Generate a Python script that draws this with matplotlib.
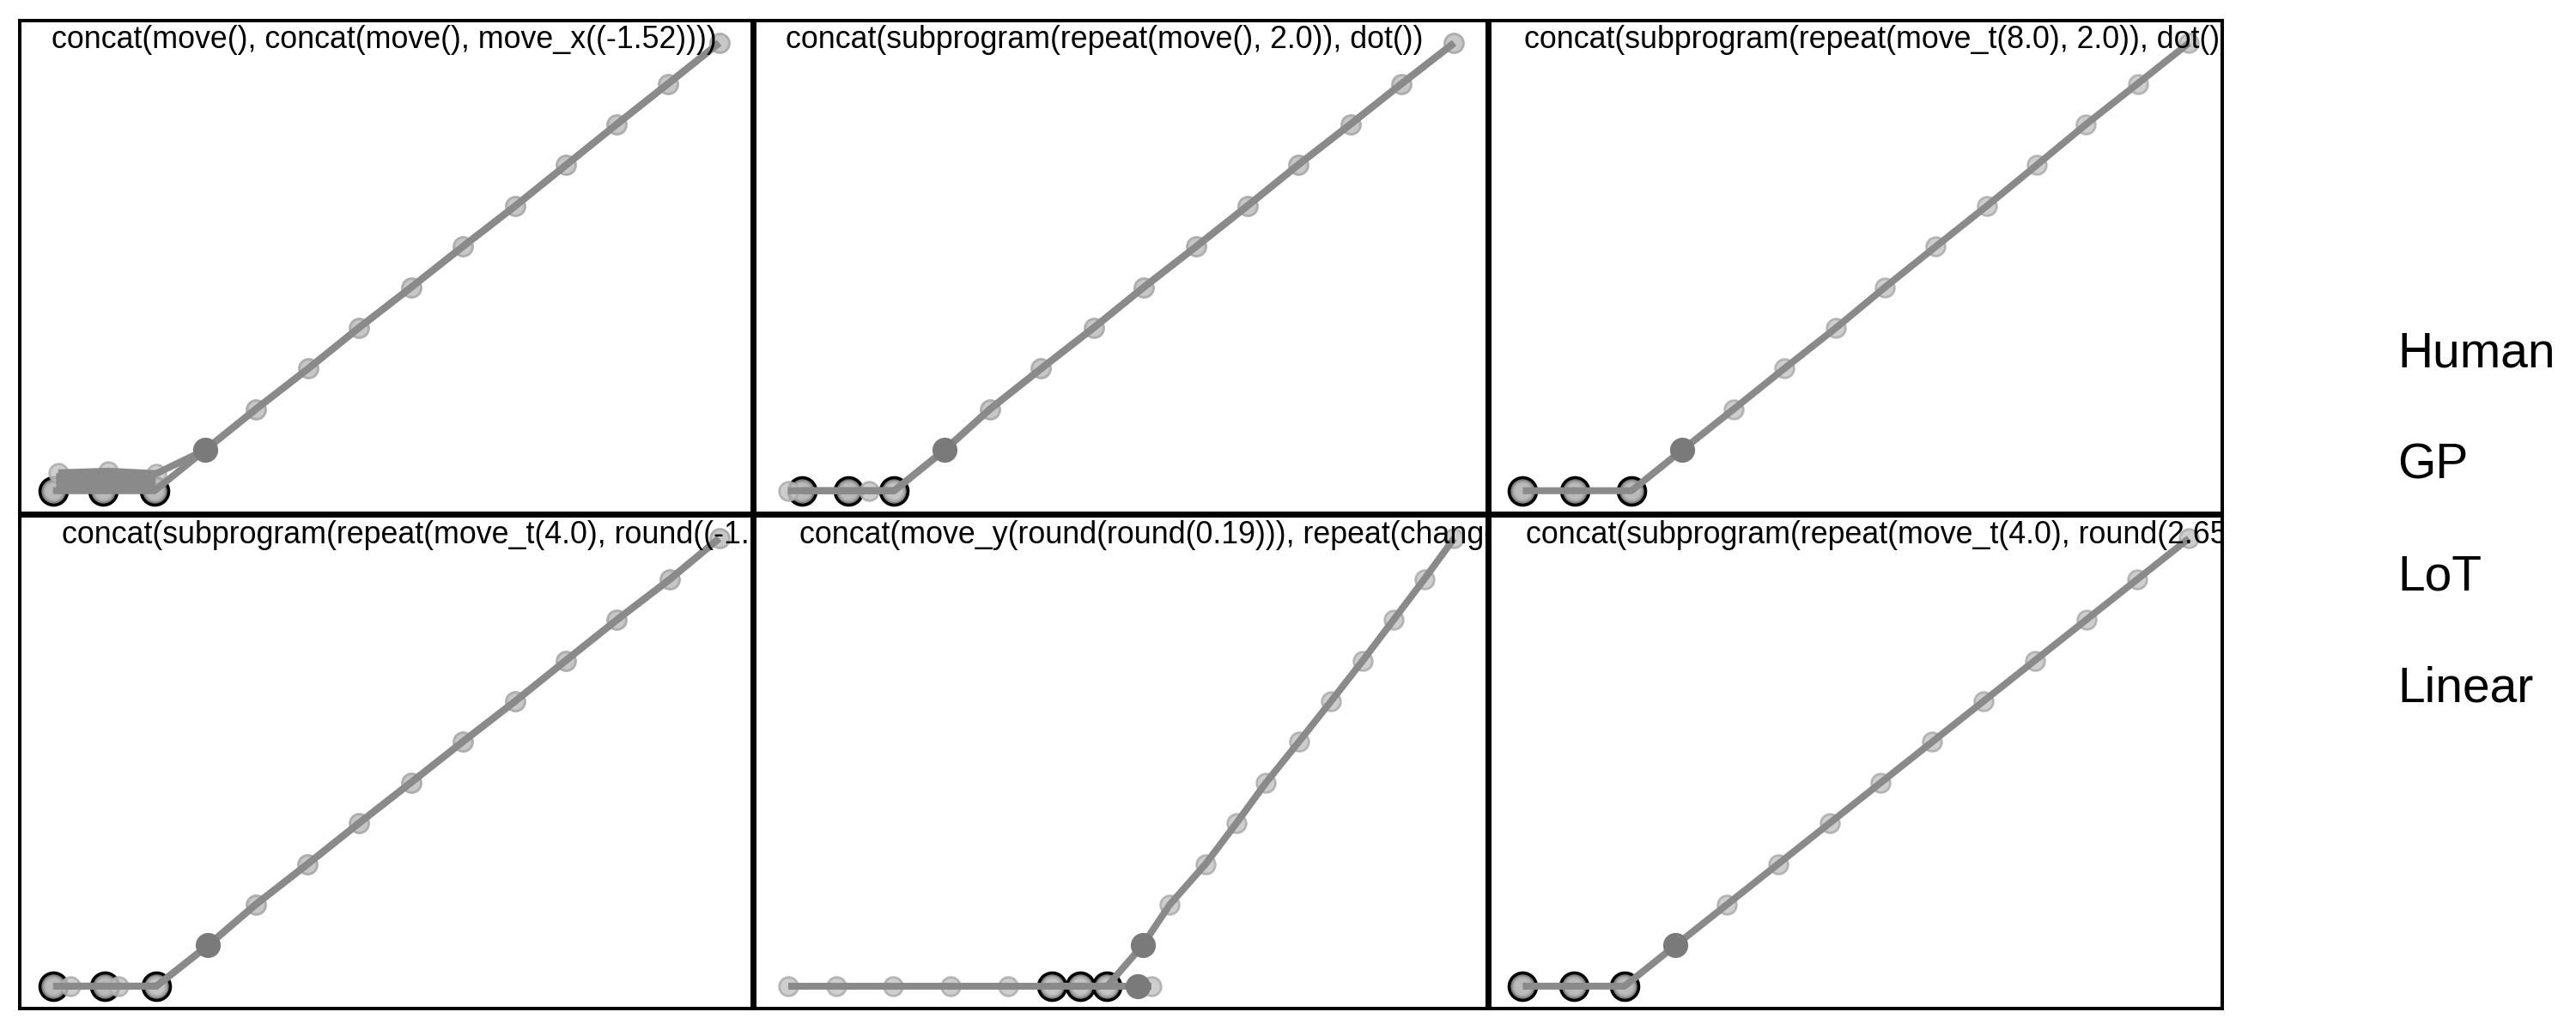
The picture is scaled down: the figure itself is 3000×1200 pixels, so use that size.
import numpy as np
import matplotlib
matplotlib.use("Agg")
from matplotlib import pyplot as plt

plt.rcParams['font.family'] = ['Liberation Sans', 'DejaVu Sans']

# program texts as far as they are visible in the panels
programs = [
    "concat(move(), concat(move(), move_x((-1.52))))",
    "concat(subprogram(repeat(move(), 2.0)), dot())",
    "concat(subprogram(repeat(move_t(8.0), 2.0)), dot())",
    "concat(subprogram(repeat(move_t(4.0), round((-1.2",
    "concat(move_y(round(round(0.19))), repeat(change",
    "concat(subprogram(repeat(move_t(4.0), round(2.65",
]
labels = ["Human", "GP", "LoT", "Linear"]

# the three points shown to the subject
seen_x = [[0, 0.97, 1.97], [0.27, 1.17, 2.07], [0, 1.0, 2.1],
          [0, 1.0, 2.0], [5.15, 5.7, 6.23], [0, 1.0, 1.98]]
seen_y = [[0, 0, 0]] * 6

# human guesses (dark points)
human_x = [[2.95], [3.05], [3.08], [3.0], [6.92, 6.82], [2.97]]
human_y = [[1.0], [1.0], [1.0], [1.0], [1.0, 0.0], [1.0]]

diag_y = [2, 3, 4, 5, 6, 7, 8, 9, 10, 11]
diag_x = [
    [3.93, 4.95, 5.93, 6.95, 7.95, 8.97, 9.95, 10.93, 11.93, 12.92],
    [3.93, 4.93, 5.95, 6.93, 7.95, 8.95, 9.93, 10.95, 11.95, 12.97],
    [4.07, 5.05, 6.05, 7.0, 7.98, 8.97, 9.93, 10.88, 11.88, 12.87],
    [3.92, 4.93, 5.92, 6.93, 7.93, 8.95, 9.93, 10.92, 11.95, 12.9],
    [7.45, 8.15, 8.75, 9.33, 9.97, 10.6, 11.22, 11.82, 12.42, 13.0],
    [3.97, 4.97, 5.97, 6.97, 7.97, 8.97, 9.97, 10.97, 11.97, 12.97],
]

# model predictions: per panel a list of series
model_x = [
    [[0, 0.97, 1.97, 2.95] + diag_x[0], [0.1, 1.07, 2.0, 2.95] + diag_x[0]],
    [[0.27, 1.17, 2.07, 3.05] + diag_x[1], [0, 1.58, 2.07, 3.05] + diag_x[1]],
    [[0, 1.0, 2.1, 3.08] + diag_x[2]],
    [[0, 1.0, 2.0, 3.0] + diag_x[3], [0.33, 1.27, 2.0, 3.0] + diag_x[3]],
    [[5.15, 5.7, 6.23, 6.92] + diag_x[4],
     [0, 0.95, 2.05, 3.18, 4.3, 5.15, 5.7, 6.23, 6.82, 7.1]],
    [[0, 1.0, 1.98, 2.97] + diag_x[5]],
]
model_y = [
    [[0, 0, 0, 1] + diag_y, [0.44, 0.48, 0.42, 1] + diag_y],
    [[0, 0, 0, 1] + diag_y, [0, 0, 0, 1] + diag_y],
    [[0, 0, 0, 1] + diag_y],
    [[0, 0, 0, 1] + diag_y, [0, 0, 0, 1] + diag_y],
    [[0, 0, 0, 1] + diag_y, [0, 0, 0, 0, 0, 0, 0, 0, 0, 0]],
    [[0, 0, 0, 1] + diag_y],
]

# spread between model fits over the seen points (panel 1 only)
band_x = [[0.05, 1.02, 1.98], None, None, None, None, None]
band_lo = [[0, 0, 0], None, None, None, None, None]
band_hi = [[0.44, 0.48, 0.42], None, None, None, None, None]

# left offset of the program text (axes fraction)
text_x = [0.043, 0.042, 0.047, 0.057, 0.061, 0.050]

fig, axes = plt.subplots(2, 3, figsize=(15, 6), dpi=200)
fig.subplots_adjust(left=23 / 3000, right=2588 / 3000, top=1 - 24 / 1200,
                    bottom=1 - 1175 / 1200, wspace=0.003, hspace=0.006)

for i, ax in enumerate(axes.flat):
    ax.plot(seen_x[i], seen_y[i], 'o', ms=11.5, mfc='#808080', mec='black',
            mew=1.3, ls='none', zorder=1)
    if band_x[i] is not None:
        ax.fill_between(band_x[i], band_lo[i], band_hi[i], color='#8a8a8a',
                        lw=0, zorder=2.5)
    for mx, my in zip(model_x[i], model_y[i]):
        ax.scatter(mx, my, s=7.8 ** 2, c='#c6c6c6', edgecolors='#acacac',
                   linewidths=1.0, alpha=0.85, zorder=2)
        ax.plot(mx, my, '-', color='#8a8a8a', lw=2.9, zorder=3,
                solid_capstyle='butt')
    ax.plot(human_x[i], human_y[i], 'o', ms=9.5, color='#7a7a7a', ls='none',
            zorder=4)
    ax.text(text_x[i], 1 - 5 / 571, programs[i], transform=ax.transAxes,
            ha='left', va='top', fontsize=12.9, clip_on=True, zorder=5)
    ax.set_xticks([])
    ax.set_yticks([])
    for s in ax.spines.values():
        s.set_linewidth(1.45)
        s.set_color('black')

for k, lab in enumerate(labels):
    fig.text(2792 / 3000, 0.644 - 0.1083 * k, lab, fontsize=20.5,
             ha='left', va='baseline')

fig.savefig("out.png", dpi=200)
